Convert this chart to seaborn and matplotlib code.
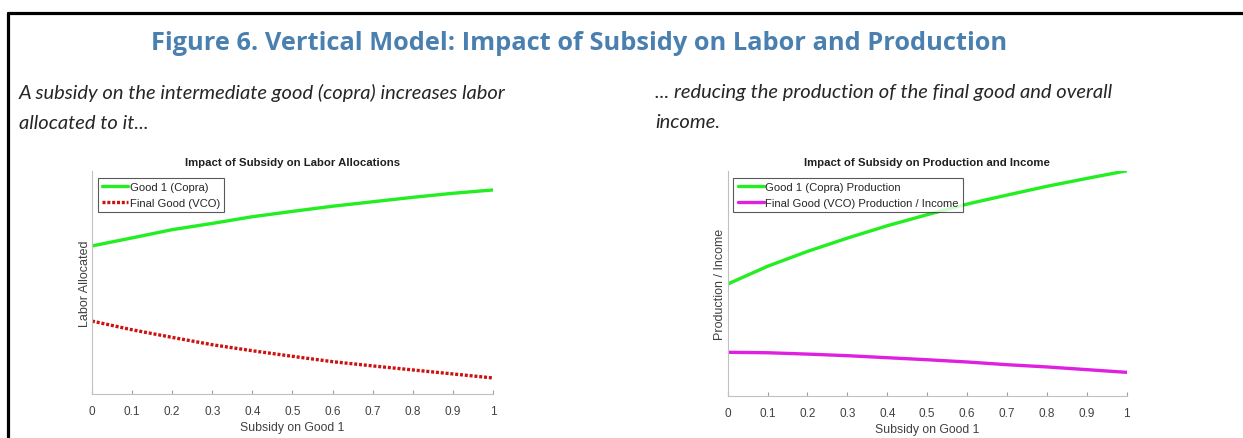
import numpy as np
import pandas as pd
import matplotlib.pyplot as plt
import seaborn as sns
from matplotlib.lines import Line2D

# Values (relative units, axis 0..1)
subsidy = [0.0, 0.1, 0.2, 0.3, 0.4, 0.5, 0.6, 0.7, 0.8, 0.9, 1.0]
labor_copra = [0.664, 0.700, 0.737, 0.765, 0.795, 0.819, 0.842, 0.862, 0.882, 0.900, 0.915]
labor_vco = [0.327, 0.288, 0.254, 0.221, 0.194, 0.169, 0.145, 0.126, 0.108, 0.090, 0.072]
prod_copra = [0.497, 0.576, 0.642, 0.701, 0.756, 0.805, 0.852, 0.892, 0.931, 0.966, 1.000]
prod_vco = [0.194, 0.192, 0.186, 0.179, 0.170, 0.161, 0.151, 0.139, 0.129, 0.117, 0.105]
xticks = [0, 0.1, 0.2, 0.3, 0.4, 0.5, 0.6, 0.7, 0.8, 0.9, 1]
xtick_labels = ["0", "0.1", "0.2", "0.3", "0.4", "0.5", "0.6", "0.7", "0.8", "0.9", "1"]

labor = pd.DataFrame({"subsidy": subsidy, "copra": labor_copra, "vco": labor_vco})
prod = pd.DataFrame({"subsidy": subsidy, "copra": prod_copra, "vco": prod_vco})

sns.set_style("white")
plt.rcParams["font.family"] = ["Liberation Sans", "DejaVu Sans"]

GREEN = "#22ee22"
RED = "#cc1111"
MAGENTA = "#e020e0"
GRAY = "#404040"
BLUE_TITLE = "#4a80b0"

fig = plt.figure(figsize=(12.43, 4.39), dpi=100)

# page frame: top and left rules
fig.add_artist(Line2D([8 / 1243, 1.0], [1 - 14 / 439] * 2, color="black", lw=2.3))
fig.add_artist(Line2D([8 / 1243] * 2, [0.0, 1 - 14 / 439], color="black", lw=2.3))

fig.text(0.466, 1 - 43 / 439, "Figure 6. Vertical Model: Impact of Subsidy on Labor and Production",
         ha="center", va="center", fontsize=18.3, fontweight="bold", color=BLUE_TITLE,
         family=["Open Sans", "DejaVu Sans"])

fig.text(19 / 1243, 1 - 84 / 439,
         "A subsidy on the intermediate good (copra) increases labor\nallocated to it...",
         ha="left", va="top", fontsize=14.5, style="italic", linespacing=1.9,
         family=["Lato", "DejaVu Sans"])
fig.text(655 / 1243, 1 - 84 / 439,
         "... reducing the production of the final good and overall\nincome.",
         ha="left", va="top", fontsize=14.5, style="italic", linespacing=1.9,
         family=["Lato", "DejaVu Sans"])


def style_axes(ax, title, ylabel):
    ax.set_xlim(0, 1)
    ax.set_ylim(0, 1)
    ax.set_xticks(xticks)
    ax.set_xticklabels(xtick_labels)
    ax.set_yticks([])
    ax.tick_params(axis="x", direction="in", length=3, color="#a0a0a0",
                   labelsize=8.5, labelcolor=GRAY, pad=8, bottom=True)
    for side in ["top", "right"]:
        ax.spines[side].set_visible(False)
    for side in ["left", "bottom"]:
        ax.spines[side].set_color("#c0c0c0")
        ax.spines[side].set_linewidth(0.8)
    ax.set_title(title, fontsize=8.2, fontweight="bold", pad=4, color="#202020")
    ax.set_xlabel("Subsidy on Good 1", fontsize=8.8, color=GRAY, labelpad=3)
    ax.set_ylabel(ylabel, fontsize=9, color=GRAY, labelpad=1)
    leg = ax.legend(loc="upper left", bbox_to_anchor=(0.0, 0.995), fontsize=8.1,
                    frameon=True, fancybox=False, handlelength=2.3, handletextpad=0.15,
                    borderpad=0.4, labelspacing=0.5, borderaxespad=0.5)
    leg.get_frame().set_edgecolor("#303030")
    leg.get_frame().set_linewidth(0.8)


ax1 = fig.add_axes([0.0740, 0.1002, 0.3226, 0.508])
sns.lineplot(data=labor, x="subsidy", y="copra", ax=ax1, color=GREEN, lw=2.4,
             label="Good 1 (Copra)")
sns.lineplot(data=labor, x="subsidy", y="vco", ax=ax1, color=RED, lw=2.4,
             linestyle=(0, (0.9, 0.55)), label="Final Good (VCO)")
style_axes(ax1, "Impact of Subsidy on Labor Allocations", "Labor Allocated")

ax2 = fig.add_axes([0.5854, 0.0957, 0.3210, 0.513])
sns.lineplot(data=prod, x="subsidy", y="copra", ax=ax2, color=GREEN, lw=2.4,
             label="Good 1 (Copra) Production")
sns.lineplot(data=prod, x="subsidy", y="vco", ax=ax2, color=MAGENTA, lw=2.4,
             label="Final Good (VCO) Production / Income")
style_axes(ax2, "Impact of Subsidy on Production and Income", "Production / Income")

fig.savefig("out.png", dpi=100)
